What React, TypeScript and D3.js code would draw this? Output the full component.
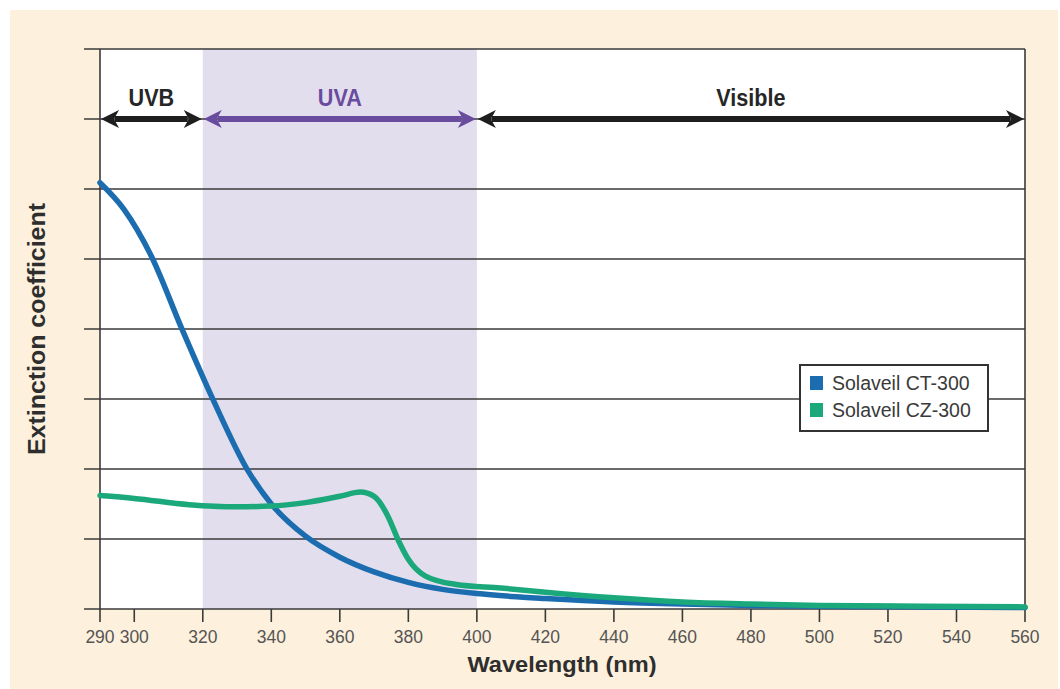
import * as d3 from "d3";

// wavelength (nm) / extinction coefficient
const ctWavelengths = [290, 297, 305, 314, 323, 333, 340, 350, 360, 370, 380, 390, 400, 410, 420, 440, 460, 480, 500, 530, 560];
const ctValues = [6.09, 5.71, 5.04, 3.99, 2.99, 1.99, 1.5, 1.04, 0.74, 0.53, 0.38, 0.28, 0.22, 0.18, 0.15, 0.1, 0.07, 0.05, 0.04, 0.03, 0.02];

const czWavelengths = [290, 300, 316, 330, 340, 350, 360, 366, 370, 374, 377, 380, 385, 394, 407, 420, 440, 460, 480, 500, 530, 560];
const czValues = [1.62, 1.58, 1.49, 1.46, 1.47, 1.52, 1.61, 1.67, 1.61, 1.33, 0.99, 0.71, 0.47, 0.35, 0.3, 0.24, 0.16, 0.1, 0.07, 0.05, 0.04, 0.03];

const xTicks = [290, 300, 320, 340, 360, 380, 400, 420, 440, 460, 480, 500, 520, 540, 560];
const yTicks = [0, 1, 2, 3, 4, 5, 6, 7, 8];

const bands = [
  { name: "UVB", from: 290, to: 320, color: "#1e1e1e" },
  { name: "UVA", from: 320, to: 400, color: "#6a4c9f" },
  { name: "Visible", from: 400, to: 560, color: "#1e1e1e" },
];

const series = [
  { name: "Solaveil CT-300", x: ctWavelengths, y: ctValues, color: "#1b6db0" },
  { name: "Solaveil CZ-300", x: czWavelengths, y: czValues, color: "#1ba87a" },
];

const W = 1060;
const H = 689;
const m = { left: 100, right: 1025, top: 49, bottom: 609 };
const font = "'Liberation Sans', Arial, sans-serif";

export default function App() {
  const x = d3.scaleLinear().domain([290, 560]).range([m.left, m.right]);
  const y = d3.scaleLinear().domain([0, 8]).range([m.bottom, m.top]);

  const line = d3
    .line<[number, number]>()
    .x((d) => x(d[0]))
    .y((d) => y(d[1]))
    .curve(d3.curveMonotoneX);

  const arrowY = y(7);
  const head = 18;

  const legend = { x: 800, y: 365, w: 188, h: 66 };

  return (
    <div style={{ position: "absolute", left: 0, top: 0 }}>
      <svg width={W} height={H} style={{ display: "block" }}>
        <rect x={0} y={0} width={W} height={H} fill="#ffffff" />
        <rect x={10} y={10} width={W - 12} height={H - 10} fill="#fdf0dc" />
        <rect x={m.left} y={m.top} width={m.right - m.left} height={m.bottom - m.top} fill="#ffffff" />
        <rect
          x={x(320)}
          y={m.top}
          width={x(400) - x(320)}
          height={m.bottom - m.top}
          fill="#e3deee"
        />

        {yTicks.map((t) => (
          <line
            key={t}
            x1={84}
            x2={m.right}
            y1={y(t)}
            y2={y(t)}
            stroke="#3a3a3a"
            strokeWidth={1.6}
          />
        ))}
        <line x1={m.left} x2={m.left} y1={m.top} y2={m.bottom} stroke="#3a3a3a" strokeWidth={1.6} />
        <line x1={m.right} x2={m.right} y1={m.top} y2={m.bottom} stroke="#3a3a3a" strokeWidth={1.6} />

        {xTicks.map((t) => (
          <g key={t}>
            <line x1={x(t)} x2={x(t)} y1={m.bottom} y2={m.bottom + 13} stroke="#3a3a3a" strokeWidth={1.6} />
            <text
              x={x(t)}
              y={m.bottom + 34}
              textAnchor="middle"
              fontFamily={font}
              fontSize={17.5}
              fill="#555"
            >
              {t}
            </text>
          </g>
        ))}

        {series.map((s) => (
          <path
            key={s.name}
            d={line(s.x.map((v, i) => [v, s.y[i]] as [number, number])) ?? ""}
            fill="none"
            stroke={s.color}
            strokeWidth={5.5}
            strokeLinecap="round"
          />
        ))}

        {bands.map((b) => {
          const x0 = x(b.from) + 1;
          const x1 = x(b.to) - 1;
          return (
            <g key={b.name}>
              <line x1={x0 + head - 4} x2={x1 - head + 4} y1={arrowY} y2={arrowY} stroke={b.color} strokeWidth={6} />
              <path
                d={`M${x0},${arrowY} L${x0 + head},${arrowY - 9} L${x0 + head - 5},${arrowY} L${x0 + head},${arrowY + 9} Z`}
                fill={b.color}
              />
              <path
                d={`M${x1},${arrowY} L${x1 - head},${arrowY - 9} L${x1 - head + 5},${arrowY} L${x1 - head},${arrowY + 9} Z`}
                fill={b.color}
              />
              <text
                transform={`translate(${(x(b.from) + x(b.to)) / 2},${arrowY - 13}) scale(0.9,1)`}
                textAnchor="middle"
                fontFamily={font}
                fontWeight="bold"
                fontSize={24}
                fill={b.name === "UVA" ? "#6a4c9f" : "#262626"}
              >
                {b.name}
              </text>
            </g>
          );
        })}

        <rect
          x={legend.x}
          y={legend.y}
          width={legend.w}
          height={legend.h}
          fill="#ffffff"
          stroke="#333"
          strokeWidth={2}
        />
        {series.map((s, i) => (
          <g key={s.name} transform={`translate(${legend.x + 10},${legend.y + 11 + i * 27})`}>
            <rect x={0} y={0} width={13} height={14} fill={s.color} />
            <text x={22} y={13.5} fontFamily={font} fontSize={19.5} fill="#3a3a3a">
              {s.name}
            </text>
          </g>
        ))}

        <text
          x={562}
          y={672}
          textAnchor="middle"
          fontFamily={font}
          fontWeight="bold"
          fontSize={21.5}
          textLength={189}
          lengthAdjust="spacingAndGlyphs"
          fill="#2e2e2e"
        >
          Wavelength (nm)
        </text>
        <text
          transform={`translate(45,${(m.top + m.bottom) / 2}) rotate(-90)`}
          textAnchor="middle"
          fontFamily={font}
          fontWeight="bold"
          fontSize={23}
          textLength={252}
          lengthAdjust="spacingAndGlyphs"
          fill="#2e2e2e"
        >
          Extinction coefficient
        </text>
      </svg>
    </div>
  );
}
